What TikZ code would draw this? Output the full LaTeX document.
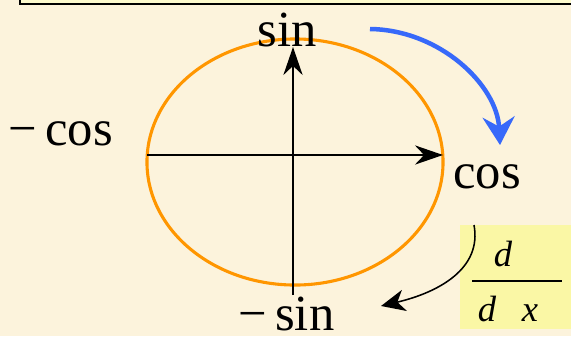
\documentclass[tikz,border=0pt]{standalone}
\usepackage{fontspec}
\setmainfont{Liberation Serif}
\newfontfamily\lblfont{Liberation Serif}
\usepackage{tikz}
\usetikzlibrary{arrows.meta,positioning,shapes.geometric}
\usepackage{xcolor}
\definecolor{paper}{RGB}{252,243,220}
\definecolor{hdr}{RGB}{253,250,205}
\definecolor{hilite}{RGB}{250,247,165}
\definecolor{orb}{RGB}{255,150,0}
\definecolor{spinblue}{RGB}{55,105,250}

\begin{document}
\begin{tikzpicture}[
  x=0.025cm, y=-0.025cm,
  lbl/.style={inner sep=0pt, anchor=base, font=\lblfont\fontsize{36}{40}\selectfont},
  frac/.style={inner sep=0pt, anchor=base, font=\lblfont\fontsize{26}{30}\selectfont\itshape},
  ax/.style={line width=1pt, -{Stealth[length=7mm, width=4.8mm]}},
  rot/.style={line width=3.2pt, draw=spinblue, -{Stealth[length=7mm, width=8mm, inset=2.4mm]}},
  dd/.style={line width=1.1pt, -{Stealth[length=6mm, width=5.4mm, inset=1.8mm]}}
]

% ================= page =================
\useasboundingbox (0,0) rectangle (571,336);
\fill[paper] (0,0) rectangle (571,336);
\begin{scope}
  \clip (0,0) rectangle (571,336);
  \node[draw, line width=1.6pt, fill=hdr, anchor=south west, inner sep=0pt,
        minimum width=15cm, minimum height=1cm] (hdrbox) at (19,5) {};
\end{scope}

% ================= circle and axes =================
\node[ellipse, draw=orb, line width=2.2pt, inner sep=0pt,
      minimum width=7.4cm, minimum height=6.15cm] (orbit) at (295,162) {};
\coordinate (xl) at (147,155);
\coordinate (xr) at (443,155);
\coordinate (yb) at (293,295);
\coordinate (yt) at (293,47);
\draw[ax] (xl) -- (xr);
\draw[ax] (yb) -- (yt);

% ================= labels =================
\node[lbl] (sin)  at (287,46)  {sin};
\node[lbl] (cos)  at (487,188) {cos};
\node[lbl, anchor=base west] (mcos) at (8,145)   {−\,cos};
\node[lbl, anchor=base west, text depth=0pt] (msin) at (238,330) {−\,sin};

% ================= rotation arrow =================
\coordinate (bs) at (370,29);
\coordinate (be) at (500,145);
\draw[rot] (bs) .. controls (440,30) and (497,85) .. (be);

% ================= derivative box =================
\node[fill=hilite, anchor=north west, inner sep=0pt,
      minimum width=2.9cm, minimum height=2.6cm] (ddx) at (460,225) {};
\node[frac] (num) at (503,266) {d};
\node[frac] (den) at (508,321) {d\hspace{0.7em}x};
\coordinate (fl) at (472,281);
\coordinate (fr) at (562,281);
\draw[line width=0.8pt] (fl) -- (fr);

\coordinate (ks) at (474,225);
\coordinate (ke) at (381,306);
\draw[dd] (ks) .. controls (482,268) and (440,292) .. (ke);
\end{tikzpicture}
\end{document}
